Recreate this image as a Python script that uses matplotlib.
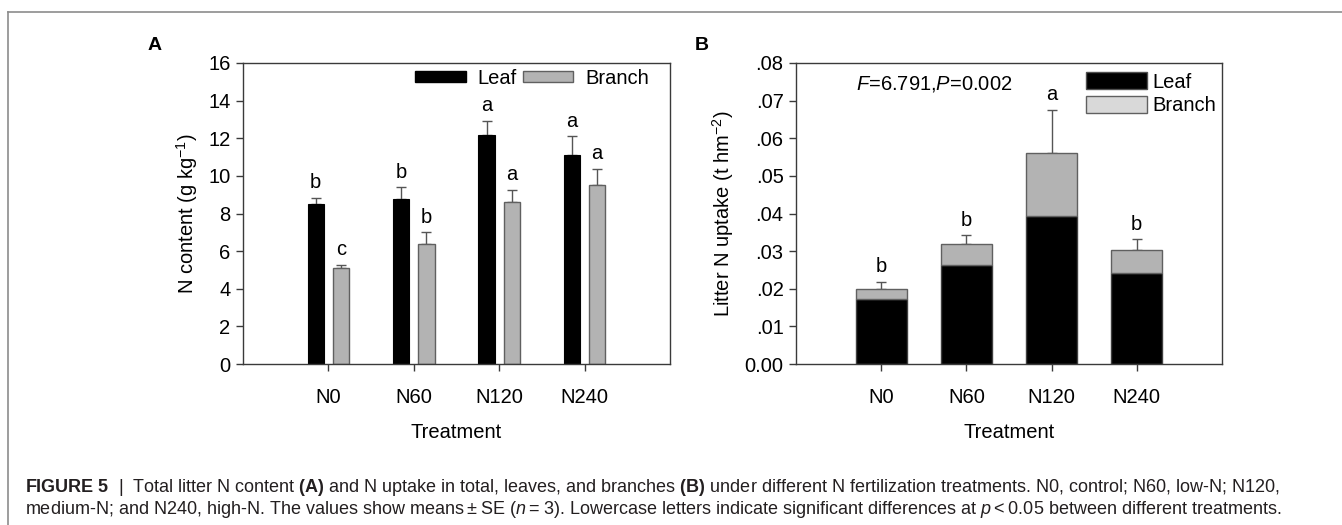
import numpy as np
import matplotlib.pyplot as plt
from matplotlib.patches import Patch
from matplotlib.lines import Line2D

plt.rcParams['font.family'] = ['Liberation Sans', 'DejaVu Sans']
plt.rcParams['mathtext.fontset'] = 'custom'
plt.rcParams['mathtext.rm'] = 'Liberation Sans'
plt.rcParams['mathtext.it'] = 'Liberation Sans:italic'
plt.rcParams['mathtext.bf'] = 'Liberation Sans:bold'

## data

treatments = ['N0', 'N60', 'N120', 'N240']

# panel A: N content (g/kg)
leaf_n = [8.5, 8.77, 12.18, 11.1]
leaf_n_se = [0.35, 0.62, 0.75, 1.0]
branch_n = [5.12, 6.38, 8.63, 9.52]
branch_n_se = [0.15, 0.63, 0.62, 0.85]
leaf_letters = ['b', 'b', 'a', 'a']
branch_letters = ['c', 'b', 'a', 'a']

# panel B: litter N uptake (t/hm2), stacked
leaf_up = [0.0172, 0.0263, 0.0394, 0.0243]
branch_up = [0.0027, 0.0055, 0.0166, 0.0060]
total_up_se = [0.0020, 0.0024, 0.0115, 0.0029]
total_letters = ['b', 'b', 'a', 'b']

stat_text = '$F$=6.791,$P$=0.002'

## figure

fig = plt.figure(figsize=(13.42, 5.25), dpi=100)
W, H = 1342, 525

def place(l, t, r, b):
    return [l / W, 1 - b / H, (r - l) / W, (b - t) / H]

axA = fig.add_axes(place(243, 63, 670, 364))
axB = fig.add_axes(place(796, 63, 1222, 364))

spine_col = '#3a3a3a'
err_col = '#555555'
fs = 14.5

def style(ax):
    for s in ax.spines.values():
        s.set_color(spine_col)
        s.set_linewidth(1.0)
    ax.tick_params(axis='both', direction='out', length=5, width=1.0,
                   color=spine_col, labelsize=fs, pad=4)
    ax.tick_params(axis='y', right=False)
    ax.tick_params(axis='x', top=False, pad=12)
    ax.set_xlim(0, 5)
    ax.set_xticks(np.arange(1, 5))
    ax.set_xticklabels(treatments)
    ax.set_xlabel('Treatment', fontsize=fs, labelpad=12)

x = np.arange(1, 5)

# --- panel A
style(axA)
off, bw = 0.148, 0.19
axA.bar(x - off, leaf_n, bw, color='black', edgecolor='black', linewidth=0.8, zorder=2)
axA.bar(x + off, branch_n, bw, color='#b3b3b3', edgecolor='#606060', linewidth=1.0, zorder=2)
axA.errorbar(x - off, leaf_n, yerr=[np.zeros(4), leaf_n_se], fmt='none',
             ecolor=err_col, elinewidth=1, capsize=3.5, capthick=1, zorder=1)
axA.errorbar(x + off, branch_n, yerr=[np.zeros(4), branch_n_se], fmt='none',
             ecolor=err_col, elinewidth=1, capsize=3.5, capthick=1, zorder=1)
for xi, v, e, t in zip(x - off, leaf_n, leaf_n_se, leaf_letters):
    axA.annotate(t, (xi, v + e), xytext=(0, 4), textcoords='offset points',
                 ha='center', va='bottom', fontsize=fs)
for xi, v, e, t in zip(x + off, branch_n, branch_n_se, branch_letters):
    axA.annotate(t, (xi, v + e), xytext=(0, 4), textcoords='offset points',
                 ha='center', va='bottom', fontsize=fs)
axA.set_ylim(0, 16)
axA.set_yticks(np.arange(0, 17, 2))
axA.set_ylabel('N content (g kg$^{-1}$)', fontsize=fs, labelpad=6)
hA = [Patch(facecolor='black', edgecolor='black'),
      Patch(facecolor='#b3b3b3', edgecolor='#606060')]
axA.legend(hA, ['Leaf', 'Branch'], loc='upper right', ncol=2, frameon=False,
           fontsize=fs, handlelength=2.5, handleheight=0.45, handletextpad=0.6,
           columnspacing=0.3, borderaxespad=0.1, bbox_to_anchor=(0.975, 1.015))

# --- panel B
style(axB)
bwB = 0.6
axB.bar(x, leaf_up, bwB, color='black', edgecolor='#404040', linewidth=1.0, zorder=2)
axB.bar(x, branch_up, bwB, bottom=leaf_up, color='#b3b3b3', edgecolor='#606060',
        linewidth=1.0, zorder=2)
total_up = np.array(leaf_up) + np.array(branch_up)
axB.errorbar(x, total_up, yerr=[np.zeros(4), total_up_se], fmt='none',
             ecolor=err_col, elinewidth=1, capsize=3.5, capthick=1, zorder=1)
for xi, v, e, t in zip(x, total_up, total_up_se, total_letters):
    axB.annotate(t, (xi, v + e), xytext=(0, 4), textcoords='offset points',
                 ha='center', va='bottom', fontsize=fs)
axB.set_ylim(0, 0.08)
axB.set_yticks(np.arange(0, 0.081, 0.01))
axB.set_yticklabels(['0.00'] + ['.%02d' % i for i in range(1, 9)])
axB.set_ylabel('Litter N uptake (t hm$^{-2}$)', fontsize=fs, labelpad=6)
axB.text(0.325, 0.965, stat_text, transform=axB.transAxes, ha='center', va='top',
         fontsize=fs)
hB = [Patch(facecolor='black', edgecolor='#505050'),
      Patch(facecolor='#d9d9d9', edgecolor='#606060')]
axB.legend(hB, ['Leaf', 'Branch'], loc='upper right', ncol=1, frameon=False,
           fontsize=fs, handlelength=3.0, handleheight=0.95, handletextpad=0.3,
           labelspacing=0.2, borderaxespad=0.2, bbox_to_anchor=(1.015, 1.01))

# panel letters
fig.text(155 / W, 1 - 45 / H, 'A', fontsize=14, fontweight='bold', ha='center', va='center')
fig.text(702 / W, 1 - 45 / H, 'B', fontsize=14, fontweight='bold', ha='center', va='center')

# page frame (top and left rules)
frame_col = '#8c8c8c'
fig.add_artist(Line2D([8 / W, 1], [1 - 12 / H, 1 - 12 / H], color=frame_col, lw=1.2,
                      transform=fig.transFigure))
fig.add_artist(Line2D([8 / W, 8 / W], [0, 1 - 12 / H], color=frame_col, lw=1.2,
                      transform=fig.transFigure))

# caption
cap_col = '#231f20'
cap1 = (r'$\mathbf{FIGURE\ 5}$  |  Total litter N content $\mathbf{(A)}$ and N uptake in total, '
        r'leaves, and branches $\mathbf{(B)}$ under different N fertilization treatments. '
        'N0, control; N60, low-N; N120,')
cap2 = ('medium-N; and N240, high-N. The values show means\u2009\u00b1\u2009SE ($n$\u2009=\u20093). '
        'Lowercase letters indicate significant differences at $p$\u2009<\u20090.05 between different treatments.')
fig.text(25 / W, 1 - 487 / H, cap1, fontsize=13.0, color=cap_col, ha='left', va='center')
fig.text(25 / W, 1 - 509 / H, cap2, fontsize=13.0, color=cap_col, ha='left', va='center')

fig.savefig('out.png', dpi=100)
